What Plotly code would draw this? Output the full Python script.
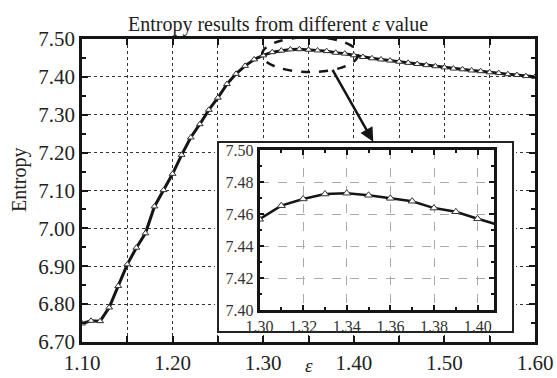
import plotly.graph_objects as go

# ---- data ----
eps = [1.10, 1.11, 1.12, 1.13, 1.14, 1.15, 1.16, 1.17, 1.18, 1.19,
       1.20, 1.21, 1.22, 1.23, 1.24, 1.25, 1.26, 1.27, 1.28, 1.29,
       1.30, 1.31, 1.32, 1.33, 1.34, 1.35, 1.36, 1.37, 1.38, 1.39,
       1.40, 1.41, 1.42, 1.43, 1.44, 1.45, 1.46, 1.47, 1.48, 1.49,
       1.50, 1.51, 1.52, 1.53, 1.54, 1.55, 1.56, 1.57, 1.58, 1.59, 1.60]
entropy = [6.749, 6.756, 6.755, 6.791, 6.848, 6.905, 6.949, 6.987, 7.058, 7.101,
           7.144, 7.194, 7.240, 7.275, 7.313, 7.345, 7.381, 7.408, 7.429, 7.446,
           7.4567, 7.4652, 7.4694, 7.4725, 7.4730, 7.4717, 7.4698, 7.4680, 7.4637, 7.4614,
           7.4570, 7.4525, 7.449, 7.446, 7.443, 7.440, 7.437, 7.434, 7.431, 7.428,
           7.425, 7.422, 7.420, 7.417, 7.415, 7.412, 7.410, 7.407, 7.405, 7.402, 7.400]

title_text = "Entropy results from different <i>ε</i> value"
y_title = "Entropy"
x_title = "<i>ε</i>"

W, H = 557, 378
def px(x):
    return x / W
def py(y):
    return 1 - y / H

SERIF = "Liberation Serif"
INK = "#151515"

fig = go.Figure()

# main curve
fig.add_trace(go.Scatter(
    x=eps, y=entropy, mode="lines+markers", xaxis="x", yaxis="y",
    line=dict(color=INK, width=3),
    marker=dict(symbol="triangle-up", size=6, color="white",
                line=dict(color="#333", width=1)),
    hoverinfo="skip", showlegend=False))

# dummy trace so the inset-box subplot exists
fig.add_trace(go.Scatter(x=[None], y=[None], xaxis="x2", yaxis="y2",
                         hoverinfo="skip", showlegend=False))

# inset curve (same data, zoomed axes)
fig.add_trace(go.Scatter(
    x=eps, y=entropy, mode="lines+markers", xaxis="x3", yaxis="y3",
    line=dict(color=INK, width=2.5),
    marker=dict(symbol="triangle-up", size=7, color="white",
                line=dict(color="#333", width=1)),
    hoverinfo="skip", showlegend=False))

main_axis = dict(
    showline=True, linecolor=INK, linewidth=2.5, mirror="allticks",
    ticks="inside", ticklen=6, tickwidth=2, tickcolor=INK,
    tickformat=".2f", showgrid=True, gridcolor="#333", griddash="dot",
    gridwidth=1.3, zeroline=False, automargin=False,
    tickfont=dict(family=SERIF, size=21, color="#222"),
)

fig.update_layout(
    width=W, height=H, autosize=False,
    margin=dict(l=0, r=0, t=0, b=0),
    paper_bgcolor="white", plot_bgcolor="white",
    template="none",
    xaxis=dict(main_axis, domain=[px(82), px(535)], range=[1.10, 1.60],
               tick0=1.10, dtick=0.1, anchor="y",
               minor=dict(dtick=0.05, ticks="inside", ticklen=6, tickwidth=2,
                          tickcolor=INK, showgrid=True, gridcolor="#333",
                          griddash="dot", gridwidth=1.3)),
    yaxis=dict(main_axis, domain=[py(342), py(39)], range=[6.70, 7.50],
               tick0=6.70, dtick=0.1, anchor="x",
               minor=dict(dtick=0.05, ticks="inside", ticklen=4, tickwidth=2,
                          tickcolor=INK, showgrid=False)),
    # inset box axes (hidden)
    xaxis2=dict(domain=[px(215), px(516)], range=[-3 / 295, 1 + 3 / 295],
                visible=False, anchor="y2", fixedrange=True),
    yaxis2=dict(domain=[py(335), py(139)], range=[-3 / 190, 1 + 3 / 190],
                visible=False, anchor="x2", fixedrange=True),
    # inset axes
    xaxis3=dict(domain=[px(259.5), px(494)], range=[1.30, 1.4075], anchor="y3",
                tick0=1.30, dtick=0.02, tickformat=".2f",
                showline=True, linecolor=INK, linewidth=2.5, mirror="allticks",
                ticks="inside", ticklen=5, tickwidth=1.5, tickcolor=INK,
                showgrid=True, gridcolor="#aaa", griddash="dash", gridwidth=1.2,
                zeroline=False, automargin=False,
                tickfont=dict(family=SERIF, size=16, color="#333"),
                minor=dict(dtick=0.01, ticks="inside", ticklen=3, tickwidth=1.5,
                           tickcolor=INK, showgrid=False)),
    yaxis3=dict(domain=[py(310), py(150)], range=[7.40, 7.50], anchor="x3",
                tick0=7.40, dtick=0.02, tickformat=".2f",
                showline=True, linecolor=INK, linewidth=2.5, mirror="allticks",
                ticks="inside", ticklen=5, tickwidth=1.5, tickcolor=INK,
                showgrid=True, gridcolor="#aaa", griddash="dash", gridwidth=1.2,
                zeroline=False, automargin=False,
                tickfont=dict(family=SERIF, size=16, color="#333"),
                minor=dict(dtick=0.01, ticks="inside", ticklen=3, tickwidth=1.5,
                           tickcolor=INK, showgrid=False)),
)

# inset white box with border
fig.add_shape(type="rect", xref="x2", yref="y2", x0=0, x1=1, y0=0, y1=1,
              fillcolor="white", line=dict(color="#222", width=2), layer="below")

# dashed ellipse around the peak
fig.add_shape(type="circle", xref="x", yref="y",
              x0=1.2987, x1=1.4046, y0=7.413, y1=7.505,
              line=dict(color=INK, width=2.5, dash="dash"), layer="above")

# arrow pointing to inset
fig.add_annotation(x=1.4215, y=7.229, xref="x", yref="y",
                   ax=1.3756, ay=7.4227, axref="x", ayref="y",
                   showarrow=True, arrowhead=2, arrowsize=1.1, arrowwidth=2.5,
                   arrowcolor=INK, text="")

# texts
fig.add_annotation(text=title_text, xref="paper", yref="paper",
                   x=px(278), y=py(24), xanchor="center", yanchor="middle",
                   showarrow=False, font=dict(family=SERIF, size=20, color="#222"))
fig.add_annotation(text=y_title, xref="paper", yref="paper",
                   x=px(19), y=py(180), xanchor="center", yanchor="middle",
                   textangle=-90, showarrow=False,
                   font=dict(family=SERIF, size=20, color="#222"))
fig.add_annotation(text=x_title, xref="paper", yref="paper",
                   x=px(309), y=py(378), xanchor="center", yanchor="bottom",
                   showarrow=False, font=dict(family=SERIF, size=19, color="#222"))

fig.write_html("out.html")
